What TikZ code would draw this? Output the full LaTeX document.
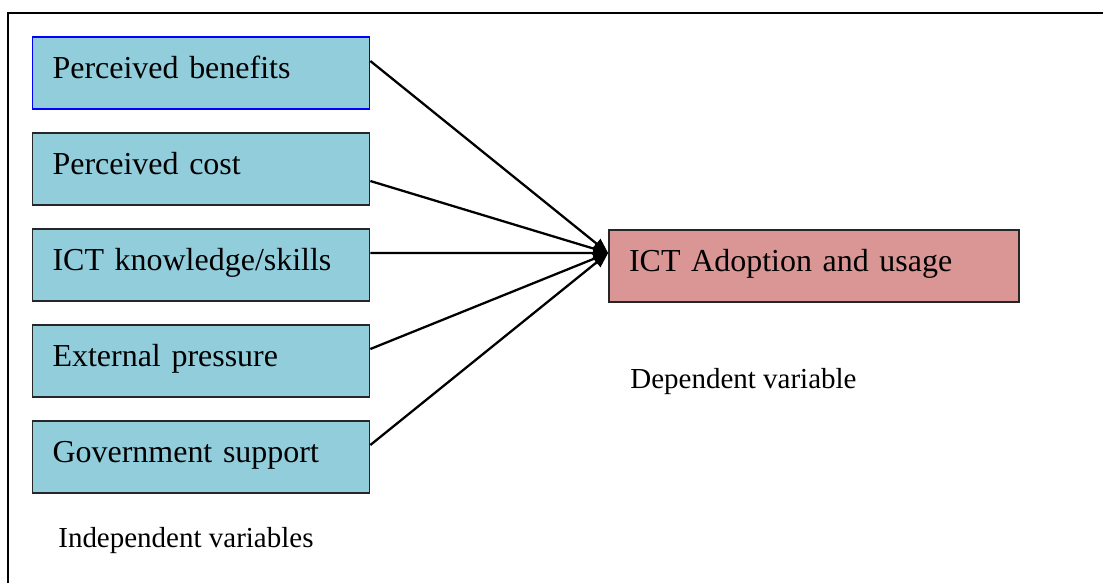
\documentclass[tikz,border=0pt]{standalone}
\usepackage{fontspec}
\setmainfont{Liberation Serif}
\usetikzlibrary{arrows.meta,positioning,calc}
\definecolor{ivfill}{RGB}{146,205,220}
\definecolor{dvfill}{RGB}{217,150,148}
\definecolor{edgeblue}{RGB}{0,0,255}
\tikzset{
  vbox/.style={draw=black!85,line width=1pt,align=left,inner xsep=0.4cm,inner ysep=0pt,
    text height=0.82cm,text depth=0.62cm,font=\fontsize{18.2}{20}\selectfont},
  ivbox/.style={vbox,fill=ivfill,text width=5.94cm},
  dvbox/.style={vbox,fill=dvfill,text width=7.4cm},
  flow/.style={-{Triangle[length=0.3cm,width=0.24cm]},line width=1.3pt,draw=black},
  lab/.style={anchor=base west,inner sep=0pt,font=\fontsize{16.5}{18}\selectfont},
  frame/.style={line width=1.2pt,draw=black}
}
\begin{document}
\begin{tikzpicture}[x=0.02cm,y=-0.02cm]
  \useasboundingbox (0,0) rectangle (1103,583);
  \draw[frame] (8,583) |- (1103,13);
  % independent variables
  \node[ivbox,draw=edgeblue] (ben) at (201,73)  {Perceived benefits};
  \node[ivbox] (cost) at (201,169) {Perceived cost};
  \node[ivbox] (skill) at (201,265) {ICT knowledge/skills};
  \node[ivbox] (pres) at (201,361) {External pressure};
  \node[ivbox] (gov) at (201,457) {Government support};
  % dependent variable
  \node[dvbox] (adopt) at (814,266) {ICT Adoption and usage};
  \coordinate (tip) at ([yshift=0.26cm]adopt.west);
  \node[lab] (deplab) at (630,388) {Dependent variable};
  \node[lab] (indlab) at (58,547) {Independent variables};
  \draw[flow] ([yshift=0.24cm]ben.east) -- (tip);
  \draw[flow] ([yshift=-0.24cm]cost.east) -- (tip);
  \draw[flow] ([yshift=0.24cm]skill.east) -- (tip);
  \draw[flow] ([yshift=0.24cm]pres.east) -- (tip);
  \draw[flow] ([yshift=0.24cm]gov.east) -- (tip);
\end{tikzpicture}
\end{document}
